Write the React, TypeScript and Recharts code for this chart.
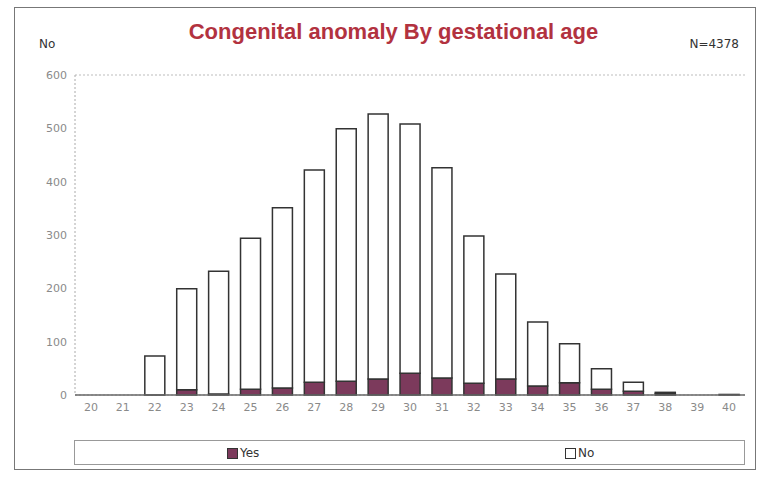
import { BarChart, Bar, XAxis, YAxis, CartesianGrid } from 'recharts';

const weeks = ['20', '21', '22', '23', '24', '25', '26', '27', '28', '29', '30', '31', '32', '33', '34', '35', '36', '37', '38', '39', '40'];
const yesCounts = [0, 0, 0, 10, 2, 11, 13, 24, 26, 30, 41, 32, 22, 30, 17, 23, 11, 7, 3, 0, 0];
const noCounts = [0, 0, 73, 189, 230, 283, 338, 398, 473, 497, 467, 394, 276, 197, 120, 73, 38, 17, 2, 0, 1];
const yTicks = [0, 100, 200, 300, 400, 500, 600];

const data = weeks.map((w, i) => ({ week: w, yes: yesCounts[i], no: noCounts[i] }));

const font = '"DejaVu Sans", Verdana, sans-serif';
const tickStyle = { fill: '#8a8a8a', fontSize: 11, fontFamily: font };

const App = () => {
  return (
    <div style={{ position: 'absolute', left: 0, top: 0, width: 761, height: 477, background: '#fff', fontFamily: font }}>
      {/* outer frame */}
      <div style={{ position: 'absolute', left: 14, top: 7, width: 742, height: 463, border: '1px solid #777', boxSizing: 'border-box' }} />
      <div style={{ position: 'absolute', left: 0, right: 0, top: 19, textAlign: 'center', paddingLeft: 26, color: '#b2323f', fontWeight: 'bold', fontSize: 22, fontFamily: '"Liberation Sans", Arial, sans-serif' }}>
        Congenital anomaly By gestational age
      </div>
      <div style={{ position: 'absolute', left: 39, top: 37, fontSize: 12, color: '#333' }}>No</div>
      <div style={{ position: 'absolute', right: 22, top: 37, fontSize: 12, color: '#333' }}>N=4378</div>

      <div style={{ position: 'absolute', left: 0, top: 0 }}>
        <BarChart width={761} height={477} data={data} barSize={20} margin={{ top: 75, right: 16, bottom: 62, left: 0 }}>
          <CartesianGrid vertical={false} stroke="#bdbdbd" strokeDasharray="2 2" />
          <XAxis dataKey="week" height={20} tickLine={false} axisLine={{ stroke: '#666', strokeWidth: 1.5 }} tick={tickStyle} interval={0} />
          <YAxis yAxisId="left" domain={[0, 600]} ticks={yTicks} width={75} tickLine={false} axisLine={{ stroke: '#aaa', strokeDasharray: '2 2' }} tick={tickStyle} />
          <YAxis yAxisId="right" orientation="right" domain={[0, 600]} ticks={yTicks} width={0} tick={false} tickLine={false} axisLine={{ stroke: '#aaa', strokeDasharray: '2 2' }} />
          <Bar yAxisId="left" dataKey="yes" stackId="a" fill="#7c3a5c" stroke="#333" strokeWidth={1.5} isAnimationActive={false} />
          <Bar yAxisId="left" dataKey="no" stackId="a" fill="#ffffff" stroke="#333" strokeWidth={1.5} isAnimationActive={false} />
        </BarChart>
      </div>

      {/* legend box */}
      <div style={{ position: 'absolute', left: 74, top: 440, width: 671, height: 25, border: '1px solid #999', boxSizing: 'border-box' }}>
        <div style={{ position: 'absolute', left: 152, top: 5, fontSize: 12, color: '#333', display: 'flex', alignItems: 'center' }}>
          <span style={{ display: 'inline-block', width: 9, height: 9, background: '#7c3a5c', border: '1px solid #333', marginRight: 2 }} />Yes
        </div>
        <div style={{ position: 'absolute', left: 490, top: 5, fontSize: 12, color: '#333', display: 'flex', alignItems: 'center' }}>
          <span style={{ display: 'inline-block', width: 9, height: 9, background: '#fff', border: '1px solid #333', marginRight: 2 }} />No
        </div>
      </div>
    </div>
  );
};

export default App;
